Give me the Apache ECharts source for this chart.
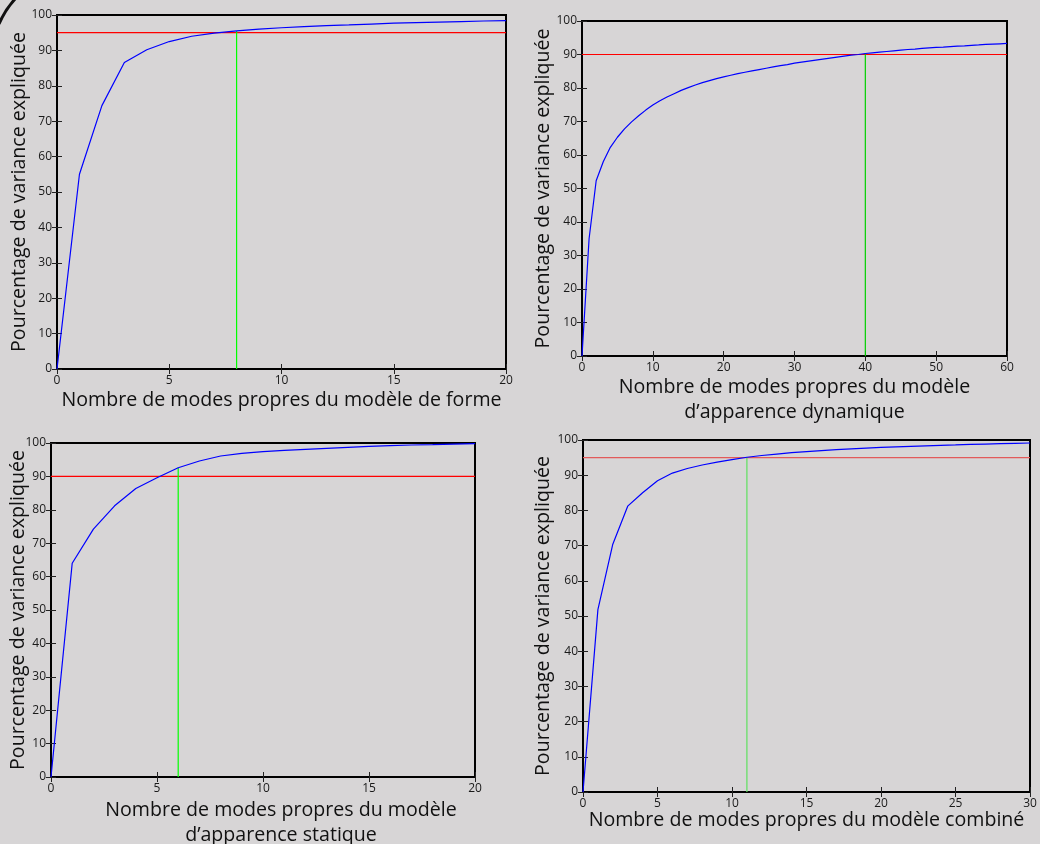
<!DOCTYPE html>
<html>
<head>
<meta charset="UTF-8">
<script src="https://cdn.jsdelivr.net/npm/echarts@6/dist/echarts.min.js"></script>
<style>
  html, body { margin: 0; padding: 0; background: #d7d5d6; }
  #main { width: 1040px; height: 844px; }
</style>
<title>Variance expliquée</title>
</head>
<body>
<div id="main"></div>
<script type="text/javascript">
  // pourcentage cumulé de variance, un point par mode (x = 0, 1, 2, ...)
  var formeVals = [0, 55.0, 74.4, 86.6, 90.2, 92.5, 94.0, 94.9, 95.5, 96.0, 96.4, 96.7, 97.0, 97.2, 97.45, 97.7, 97.85, 98.0, 98.15, 98.3, 98.4];
  var dynVals = [0, 35.0, 52.3, 58.0, 62.3, 65.3, 67.8, 69.9, 71.7, 73.4, 74.9, 76.2, 77.3, 78.3, 79.3, 80.1, 80.9, 81.6, 82.2, 82.8,
                 83.3, 83.8, 84.3, 84.7, 85.1, 85.5, 85.9, 86.3, 86.7, 87.0, 87.4, 87.7, 88.0, 88.3, 88.6, 88.9, 89.2, 89.5, 89.8, 90.0,
                 90.3, 90.5, 90.7, 90.9, 91.1, 91.3, 91.5, 91.6, 91.8, 91.95, 92.1, 92.2, 92.35, 92.5, 92.6, 92.75, 92.85, 93.0, 93.1, 93.2, 93.3];
  var statVals = [0, 64.0, 74.2, 81.2, 86.4, 89.6, 92.6, 94.6, 96.1, 96.9, 97.4, 97.8, 98.1, 98.4, 98.7, 99.0, 99.2, 99.4, 99.5, 99.65, 99.8];
  var combVals = [0, 51.8, 70.4, 81.2, 85.0, 88.4, 90.6, 91.9, 92.9, 93.7, 94.4, 95.1, 95.6, 96.0, 96.4, 96.7, 97.0, 97.25, 97.5, 97.7,
                  97.9, 98.05, 98.2, 98.35, 98.5, 98.6, 98.75, 98.85, 98.95, 99.05, 99.15];

  var seuils = [95, 90, 90, 95];      // ligne rouge
  var coupures = [8, 40, 6, 11];      // ligne verte
  var xMax = [20, 60, 20, 30];
  var xInterval = [5, 10, 5, 5];
  var xNames = [
    'Nombre de modes propres du modèle de forme',
    'Nombre de modes propres du modèle\nd’apparence dynamique',
    'Nombre de modes propres du modèle\nd’apparence statique',
    'Nombre de modes propres du modèle combiné'
  ];
  var yName = 'Pourcentage de variance expliquée';

  var grids = [
    { left: 57, top: 15, width: 449, height: 354 },
    { left: 582, top: 21, width: 425, height: 335 },
    { left: 51, top: 443, width: 424, height: 334 },
    { left: 583, top: 440, width: 447, height: 352 }
  ];
  var yNameGaps = [28, 29, 23, 30];
  var xNameGaps = [19, 19, 21, 16];
  var xNamePad = [[0, 0, 0, 0], [0, 0, 0, 0], [0, 0, 0, 36], [0, 0, 0, 0]];
  var redCols = ['#ff0000', '#ff0000', '#ff0000', '#e25a5a'];
  var greenCols = ['#00ff00', '#00d000', '#00ff00', '#5fe05f'];

  var allVals = [formeVals, dynVals, statVals, combVals];
  var font = '"Open Sans", "Noto Sans", sans-serif';

  var myChart = echarts.init(document.getElementById('main'));

  var option = {
    backgroundColor: '#d7d5d6',
    animation: false,
    textStyle: { fontFamily: font },
    grid: [],
    xAxis: [],
    yAxis: [],
    series: [],
    graphic: [{
      type: 'bezierCurve',
      shape: { x1: -1, y1: 24, x2: 15, y2: -1, cpx1: 5, cpy1: 10 },
      style: { stroke: '#111', lineWidth: 3, fill: null }
    }]
  };

  for (var i = 0; i < 4; i++) {
    var g = grids[i];
    option.grid.push({
      left: g.left, top: g.top, width: g.width, height: g.height,
      outerBoundsMode: 'none', containLabel: false,
      show: true, borderColor: '#000', borderWidth: 2, backgroundColor: 'transparent'
    });
    // axes principaux
    option.xAxis.push({
      type: 'value', gridIndex: i, min: 0, max: xMax[i], interval: xInterval[i],
      name: xNames[i], nameLocation: 'middle', nameGap: xNameGaps[i], nameMoveOverlap: false,
      nameTextStyle: { fontSize: 19.6, color: '#111', lineHeight: 25, padding: xNamePad[i] },
      axisLine: { show: true, lineStyle: { color: '#000', width: 2 } },
      axisTick: { show: true, inside: true, length: 5, lineStyle: { color: '#222' } },
      axisLabel: { fontSize: 12, color: '#1a1a1a', margin: 6 },
      splitLine: { show: false }
    });
    option.yAxis.push({
      type: 'value', gridIndex: i, min: 0, max: 100, interval: 10,
      name: yName, nameLocation: 'middle', nameGap: yNameGaps[i], nameMoveOverlap: false,
      nameTextStyle: { fontSize: 19.6, color: '#111' },
      axisLine: { show: true, lineStyle: { color: '#000', width: 2 } },
      axisTick: { show: true, inside: true, length: 5, lineStyle: { color: '#222' } },
      axisLabel: { fontSize: 12, color: '#1a1a1a', margin: 5 },
      splitLine: { show: false }
    });
  }
  // axes miroirs (graduations en haut et à droite)
  for (var i = 0; i < 4; i++) {
    option.xAxis.push({
      type: 'value', gridIndex: i, position: 'top', min: 0, max: xMax[i], interval: xInterval[i],
      axisLine: { show: false },
      axisTick: { show: true, inside: true, length: 5, lineStyle: { color: '#222' } },
      axisLabel: { show: false }, splitLine: { show: false }
    });
    option.yAxis.push({
      type: 'value', gridIndex: i, position: 'right', min: 0, max: 100, interval: 10,
      axisLine: { show: false },
      axisTick: { show: true, inside: true, length: 5, lineStyle: { color: '#222' } },
      axisLabel: { show: false }, splitLine: { show: false }
    });
  }

  for (var i = 0; i < 4; i++) {
    var vals = allVals[i];
    var pts = [];
    for (var k = 0; k < vals.length; k++) pts.push([k, vals[k]]);
    var c = coupures[i];
    option.series.push({
      type: 'line', xAxisIndex: i, yAxisIndex: i,
      data: [[0, seuils[i]], [xMax[i], seuils[i]]],
      showSymbol: false, lineStyle: { color: redCols[i], width: 1.2 }, z: 2
    });
    option.series.push({
      type: 'line', xAxisIndex: i, yAxisIndex: i,
      data: [[c, 0], [c, vals[c]]],
      showSymbol: false, lineStyle: { color: greenCols[i], width: 1.2 }, z: 2
    });
    option.series.push({
      type: 'line', xAxisIndex: i, yAxisIndex: i,
      data: pts, showSymbol: false,
      lineStyle: { color: '#0000ff', width: 1.2 }, z: 3
    });
  }

  myChart.setOption(option);
</script>
</body>
</html>
